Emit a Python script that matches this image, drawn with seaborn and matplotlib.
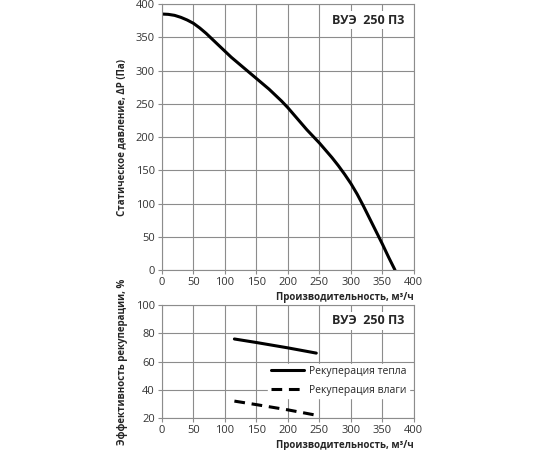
import numpy as np
import pandas as pd
import seaborn as sns
import matplotlib.pyplot as plt

# данные кривой давления (м3/ч, Па)
flow = [0, 10, 20, 30, 40, 50, 60, 70, 80, 90, 100, 110, 120, 130, 140, 150, 160, 170, 180, 190,
        200, 210, 220, 230, 240, 250, 260, 270, 280, 290, 300, 310, 320, 330, 340, 350, 360, 370]
pressure = [385, 384.5, 383, 380, 376, 371, 364, 356, 347, 338, 329, 320, 312, 304, 296, 288, 280, 272, 263, 254,
            244, 233, 222, 211, 201, 191, 180, 169, 157, 144, 130, 114, 96, 77, 58, 39, 19, 0]

# эффективность рекуперации
rec_flow = [115, 150, 200, 245]
heat_eff = [76, 73.5, 69.7, 66]
moist_eff = [32, 29.5, 25.8, 22]

model = "ВУЭ  250 П3"
xlab = "Производительность, м³/ч"

sns.set_theme(style="white")
plt.rcParams['font.family'] = ['Open Sans', 'DejaVu Sans']

fig = plt.figure(figsize=(5.5, 4.5), dpi=100)
ax1 = fig.add_axes([0.2945, 0.4, 0.458, 0.591])
ax2 = fig.add_axes([0.2945, 0.071, 0.458, 0.251])

grid_c = "#8c8c8c"

df1 = pd.DataFrame({"q": flow, "p": pressure})
sns.lineplot(data=df1, x="q", y="p", ax=ax1, color="black", lw=2.2)
ax1.set_xlim(0, 400)
ax1.set_ylim(0, 400)
ax1.set_xticks(range(0, 401, 50))
ax1.set_yticks(range(0, 401, 50))
ax1.set_ylabel("Статическое давление, ΔP (Па)", fontsize=7, fontweight="bold", labelpad=6)
ax1.set_xlabel(xlab, fontsize=7, fontweight="bold", loc="right", labelpad=3)

df2 = pd.DataFrame({"q": rec_flow + rec_flow,
                    "e": heat_eff + moist_eff,
                    "kind": ["Рекуперация тепла"] * 4 + ["Рекуперация влаги"] * 4})
sns.lineplot(data=df2, x="q", y="e", style="kind", ax=ax2, color="black", lw=2.2,
             dashes={"Рекуперация тепла": "", "Рекуперация влаги": (3.5, 2.2)})
ax2.set_xlim(0, 400)
ax2.set_ylim(20, 100)
ax2.set_xticks(range(0, 401, 50))
ax2.set_yticks(range(20, 101, 20))
ax2.set_ylabel("Эффективность рекуперации, %", fontsize=7, fontweight="bold", labelpad=6)
ax2.set_xlabel(xlab, fontsize=7, fontweight="bold", loc="right", labelpad=3)
leg = ax2.legend(loc="center right", bbox_to_anchor=(1.0, 0.33), frameon=True, fontsize=7.5,
                 handlelength=3.2, borderpad=0.2, labelspacing=0.75, handletextpad=0.5)
leg.get_frame().set_facecolor("white")
leg.get_frame().set_edgecolor("white")
leg.get_frame().set_alpha(1)

for ax, ty in ((ax1, 0.94), (ax2, 0.86)):
    ax.grid(True, color=grid_c, lw=0.8)
    for s in ax.spines.values():
        s.set_color(grid_c)
        s.set_linewidth(0.8)
    ax.tick_params(labelsize=8, colors="#333333", length=3, width=0.8, direction="out",
                   left=True, bottom=True, pad=2)
    ax.tick_params(axis="both", color=grid_c)
    ax.text(0.82, ty, model, transform=ax.transAxes, ha="center", va="center",
            fontsize=9, fontweight="bold",
            bbox=dict(facecolor="white", edgecolor="none", pad=2))

fig.savefig("out.png", dpi=100)
